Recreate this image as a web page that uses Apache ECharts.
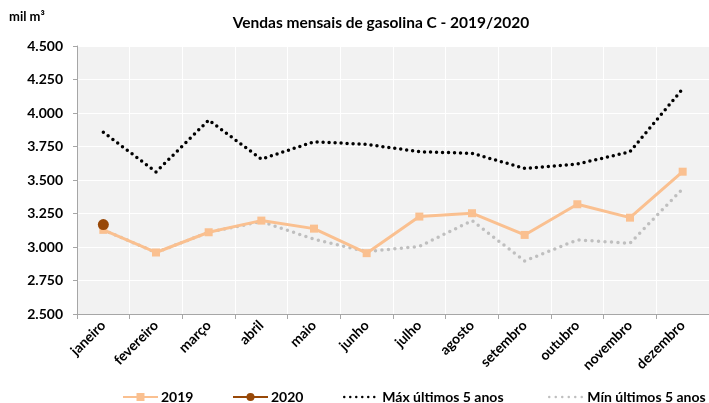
<!DOCTYPE html>
<html>
<head>
<meta charset="utf-8">
<script src="https://cdn.jsdelivr.net/npm/echarts@6/dist/echarts.min.js"></script>
<style>
  html, body { margin: 0; padding: 0; background: #fff; }
  #chart { width: 709px; height: 403px; }
</style>
</head>
<body>
<div id="chart"></div>
<script>
"use strict";

// months on the x axis
const months = ["janeiro", "fevereiro", "março", "abril", "maio", "junho",
  "julho", "agosto", "setembro", "outubro", "novembro", "dezembro"];

// monthly sales, mil m³
const sales2019 = [3128, 2959, 3110, 3197, 3137, 2954, 3227, 3252, 3090, 3319, 3219, 3562];
const sales2020 = [3167, null, null, null, null, null, null, null, null, null, null, null];
const max5y = [3857, 3560, 3947, 3656, 3785, 3766, 3711, 3699, 3587, 3619, 3711, 4180];
const min5y = [3128, 2959, 3110, 3190, 3058, 2966, 3004, 3197, 2896, 3053, 3028, 3435];

const FONT = "Lato, 'Open Sans', sans-serif";

const chart = echarts.init(document.getElementById("chart"));

// thousands with a dot, three decimals: 4500 -> 4.500
function fmtY(v) {
  return (v / 1000).toFixed(3);
}

// one legend per item, so each sits where the reference puts it
function legendAt(name, left, noSymbol) {
  const item = noSymbol
    ? { name: name, itemStyle: { opacity: 0 }, lineStyle: { width: 2.5 } }
    : name;
  return {
    data: [item],
    left: left,
    top: 390,
    padding: 0,
    itemWidth: 35,
    itemHeight: 10,
    itemGap: 4,
    textStyle: { fontFamily: FONT, fontWeight: "bold", fontSize: 14, color: "#000", padding: [0, 0, 0, -2] }
  };
}

chart.setOption({
  animation: false,
  title: {
    text: "Vendas mensais de gasolina C - 2019/2020",
    left: 376,
    textAlign: "center",
    top: 10,
    textStyle: { fontFamily: FONT, fontWeight: "bold", fontSize: 15.5, color: "#000" }
  },
  graphic: [{
    type: "text",
    left: 9,
    top: 10,
    style: { text: "mil m³", font: "bold 13px " + FONT, fill: "#000" }
  }],
  legend: [
    legendAt("2019", 122),
    legendAt("2020", 232),
    legendAt("Máx últimos 5 anos", 343, true),
    legendAt("Mín últimos 5 anos", 548, true)
  ],
  grid: { left: 77, right: -6, top: 46, bottom: 89, backgroundColor: "#f2f2f2", show: true, borderWidth: 0 },
  xAxis: {
    type: "category",
    data: months,
    boundaryGap: true,
    axisLine: { lineStyle: { color: "#a6a6a6", width: 1 } },
    axisTick: { show: true, length: 5, lineStyle: { color: "#a6a6a6" } },
    splitLine: { show: true, interval: 0, lineStyle: { color: "#ffffff", width: 1 } },
    axisLabel: {
      rotate: 45,
      interval: 0,
      margin: 9,
      fontFamily: FONT,
      fontWeight: "bold",
      fontSize: 14,
      color: "#000"
    }
  },
  yAxis: {
    type: "value",
    min: 2500,
    max: 4500,
    interval: 250,
    axisLine: { show: true, lineStyle: { color: "#a6a6a6", width: 1 } },
    axisTick: { show: true, length: 4, lineStyle: { color: "#a6a6a6" } },
    splitLine: { lineStyle: { color: "#ffffff", width: 1 } },
    axisLabel: {
      formatter: fmtY,
      margin: 14,
      fontFamily: FONT,
      fontWeight: "bold",
      fontSize: 14,
      color: "#000"
    }
  },
  series: [
    {
      name: "Mín últimos 5 anos",
      type: "line",
      data: min5y,
      symbol: "none",
      z: 1,
      itemStyle: { color: "#bfbfbf" },
      lineStyle: { color: "#bfbfbf", width: 3.5, type: [0, 6.5], cap: "round" }
    },
    {
      name: "Máx últimos 5 anos",
      type: "line",
      data: max5y,
      symbol: "none",
      z: 2,
      itemStyle: { color: "#000" },
      lineStyle: { color: "#000", width: 3.5, type: [0, 6], cap: "round" }
    },
    {
      name: "2019",
      type: "line",
      data: sales2019,
      symbol: "rect",
      symbolSize: 8,
      z: 3,
      itemStyle: { color: "#fac090" },
      lineStyle: { color: "#fac090", width: 3 }
    },
    {
      name: "2020",
      type: "line",
      data: sales2020,
      symbol: "circle",
      symbolSize: 11,
      showAllSymbol: true,
      z: 4,
      itemStyle: { color: "#984807" },
      lineStyle: { color: "#984807", width: 3 }
    }
  ]
});
</script>
</body>
</html>
